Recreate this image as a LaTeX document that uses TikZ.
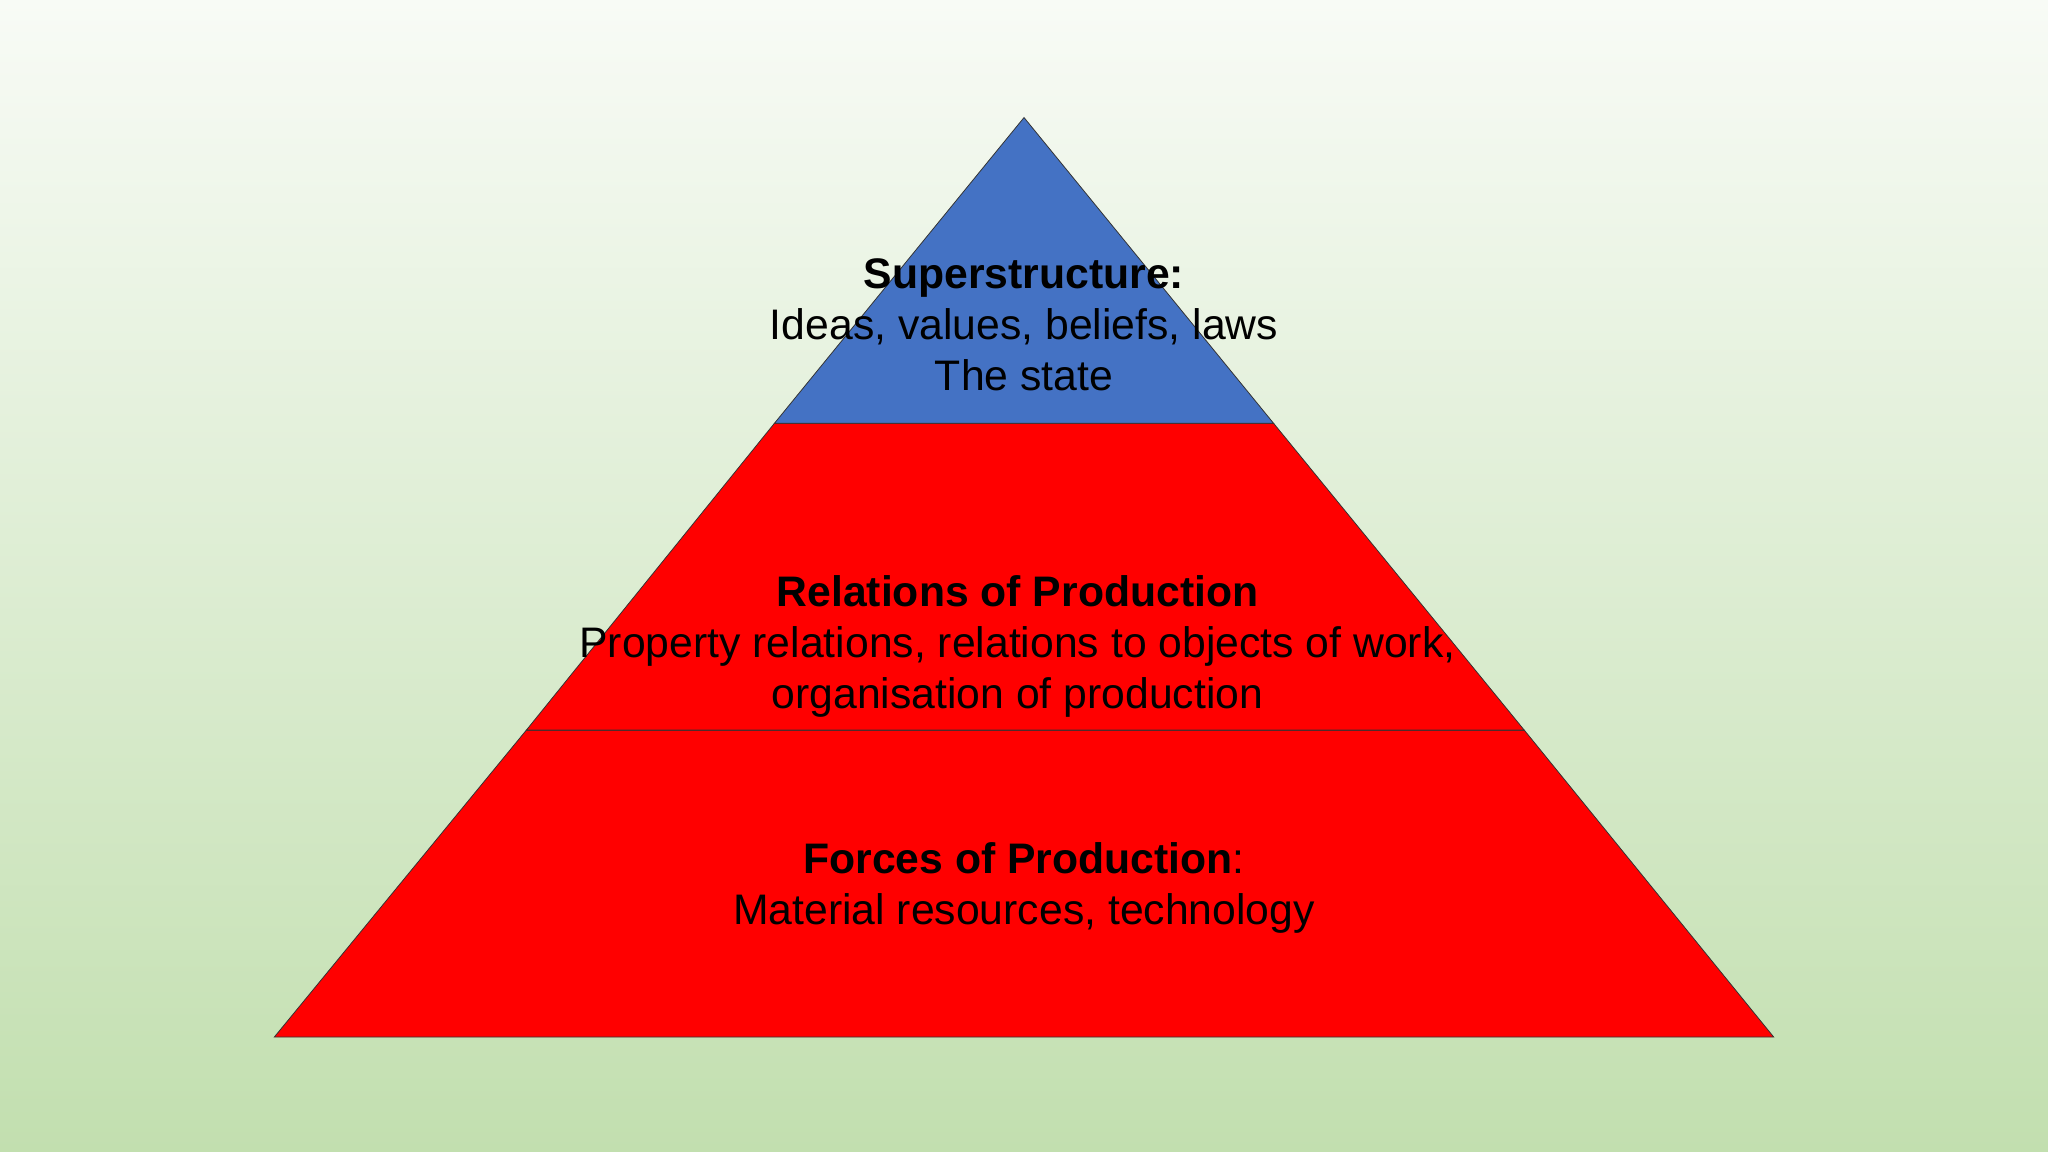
\documentclass[tikz,border=0pt]{standalone}
\usepackage{fontspec}
\setmainfont{Liberation Sans}
\definecolor{bgtop}{RGB}{248,251,246}
\definecolor{bgbot}{RGB}{194,223,175}
\definecolor{supblue}{RGB}{68,114,196}
\begin{document}
\begin{tikzpicture}[x=1pt,y=-1pt,
  lbl/.style={align=center,font=\fontsize{32.7}{39}\selectfont,text=black,inner sep=0pt},
  tier/.style={draw=black!80,line width=0.6pt}]
\shade[top color=bgtop,bottom color=bgbot] (0,0) rectangle (1568,882);
\useasboundingbox (0,0) rectangle (1568,882);
\coordinate (apex) at (784,90);
\coordinate (l1) at (593,324); \coordinate (r1) at (975,324);
\coordinate (l2) at (403,559); \coordinate (r2) at (1167,559);
\coordinate (bl) at (210,794); \coordinate (br) at (1358,794);
\draw[tier,fill=red] (l2) -- (r2) -- (br) -- (bl) -- cycle;
\draw[tier,fill=red] (l1) -- (r1) -- (r2) -- (l2) -- cycle;
\draw[tier,fill=supblue] (apex) -- (r1) -- (l1) -- cycle;
\node[lbl] (sup) at (784,249) {\textbf{Superstructure:}\\Ideas, values, beliefs, laws\\The state};
\node[lbl] (rel) at (779,495) {\textbf{Relations of Production}\\Property relations, relations to objects of work,\\organisation of production};
\node[lbl] (for) at (784,680) {\textbf{Forces of Production}:\\Material resources, technology};
\end{tikzpicture}
\end{document}
